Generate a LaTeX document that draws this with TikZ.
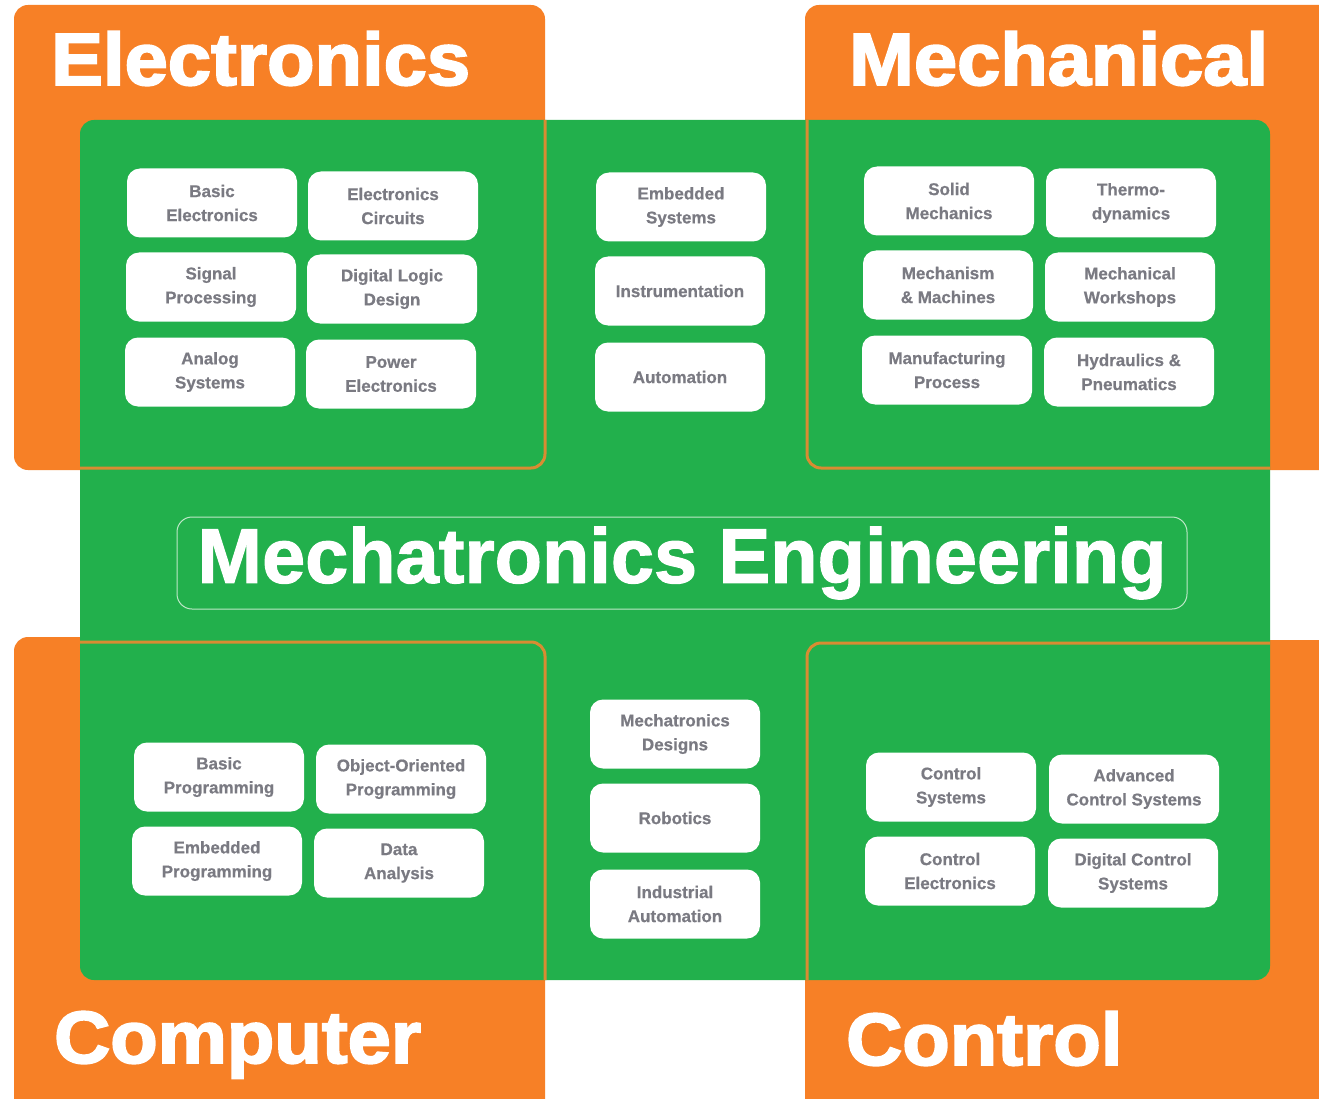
\documentclass[tikz,border=0pt]{standalone}
\usepackage{fontspec}
\setmainfont{Liberation Sans}
\newfontfamily\heavyfont{Liberation Sans Bold}[FakeBold=2.5]
\newfontfamily\midfont{Liberation Sans Bold}[FakeBold=1.5]
\newfontfamily\subfont{Liberation Sans Bold}[FakeBold=0.6]
\definecolor{og}{RGB}{247,128,38}
\definecolor{gr}{RGB}{34,176,76}
\definecolor{ogline}{RGB}{216,140,50}
\definecolor{txt}{RGB}{122,122,130}
\definecolor{ttl}{RGB}{190,232,200}
\tikzset{
  orbox/.style={fill=og, rounded corners=14pt},
  orline/.style={draw=ogline, line width=3pt, rounded corners=14pt},
  sub/.style={fill=white, rounded corners=13pt, minimum width=170pt, minimum height=69pt,
    align=center, text=txt, font=\subfont\fontsize{17}{24}\selectfont, inner sep=2pt},
  head/.style={anchor=base west, text=white, font=\heavyfont\fontsize{74}{80}\selectfont, inner sep=0pt, xscale=1.05},
}
\begin{document}
\begin{tikzpicture}[x=1pt,y=-1pt]
\useasboundingbox (0,0) rectangle (1319,1099);
\fill[white] (0,0) rectangle (1319,1099);
% orange corner boxes
\fill[orbox] (14,5) rectangle (545,470);
\fill[orbox] (805,5) rectangle (1345,470);
\fill[orbox] (14,637) rectangle (545,1125);
\fill[orbox] (805,640) rectangle (1345,1125);
% green central area
\fill[gr, rounded corners=14pt] (80,120) rectangle (1270,980);
% orange outlines over the green
\begin{scope}
\clip[rounded corners=14pt] (80,120) rectangle (1270,980);
\draw[orline] (14,5) rectangle (545,468);
\draw[orline] (807,5) rectangle (1345,468);
\draw[orline] (14,642) rectangle (545,1125);
\draw[orline] (807,643) rectangle (1345,1125);
\end{scope}
% headers
\node[head] (hel) at (51,85) {Electronics};
\node[head] (hme) at (849,85) {Mechanical};
\node[head] (hco) at (54,1063) {Computer};
\node[head] (hct) at (846,1065) {Control};
% title
\node[draw=ttl, line width=1pt, rounded corners=15pt, minimum width=1010pt, minimum height=92pt,
  text=white, font=\midfont\fontsize{77.5}{80}\selectfont, inner sep=0pt] (title) at (682,563) {Mechatronics Engineering};
% Electronics
\node[sub] (be) at (212,203) {Basic\\Electronics};
\node[sub] (ec) at (393,206) {Electronics\\Circuits};
\node[sub] (sp) at (211,287) {Signal\\Processing};
\node[sub] (dl) at (392,289) {Digital Logic\\Design};
\node[sub] (as) at (210,372) {Analog\\Systems};
\node[sub] (pe) at (391,374) {Power\\Electronics};
% middle top
\node[sub] (es) at (681,207) {Embedded\\Systems};
\node[sub] (in) at (680,291) {Instrumentation};
\node[sub] (au) at (680,377) {Automation};
% Mechanical
\node[sub] (sm) at (949,201) {Solid\\Mechanics};
\node[sub] (td) at (1131,203) {Thermo-\\dynamics};
\node[sub] (mm) at (948,285) {Mechanism\\\& Machines};
\node[sub] (mw) at (1130,287) {Mechanical\\Workshops};
\node[sub] (mp) at (947,370) {Manufacturing\\Process};
\node[sub] (hp) at (1129,372) {Hydraulics \&\\Pneumatics};
% Computer
\node[sub] (bp) at (219,777) {Basic\\Programming};
\node[sub] (oo) at (401,779) {Object-Oriented\\Programming};
\node[sub] (ep) at (217,861) {Embedded\\Programming};
\node[sub] (da) at (399,863) {Data\\Analysis};
% middle bottom
\node[sub] (md) at (675,734) {Mechatronics\\Designs};
\node[sub] (ro) at (675,818) {Robotics};
\node[sub] (ia) at (675,904) {Industrial\\Automation};
% Control
\node[sub] (cs) at (951,787) {Control\\Systems};
\node[sub] (ac) at (1134,789) {Advanced\\Control Systems};
\node[sub] (ce) at (950,871) {Control\\Electronics};
\node[sub] (dc) at (1133,873) {Digital Control\\Systems};
\end{tikzpicture}
\end{document}
